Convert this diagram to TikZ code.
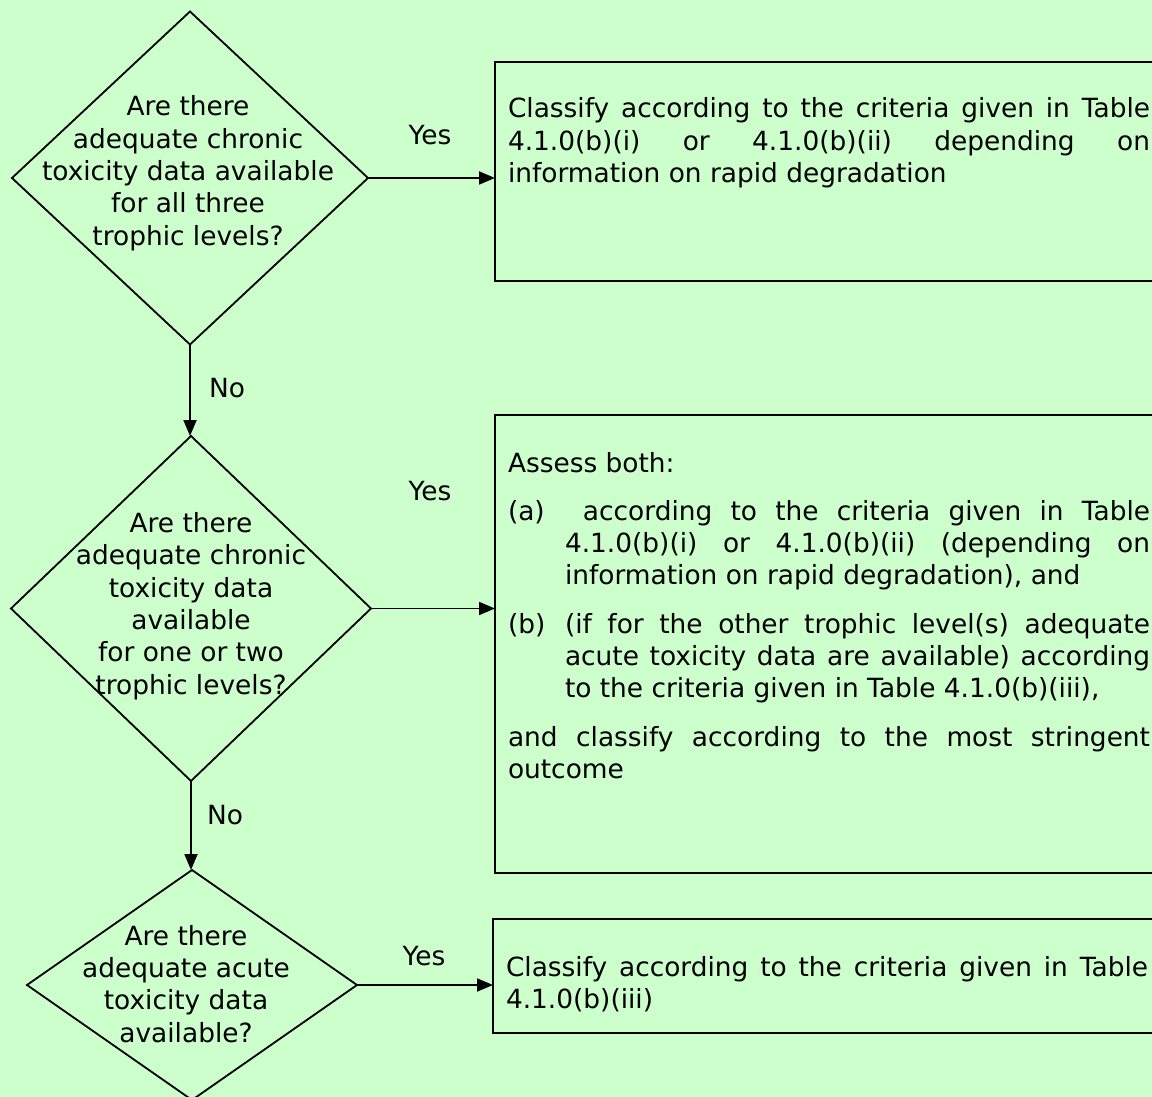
\documentclass[tikz,border=0pt]{standalone}
\usepackage{fontspec}
\setmainfont{DejaVu Sans}
\usetikzlibrary{shapes.geometric,arrows.meta}
\definecolor{bg}{HTML}{CCFFCC}
\newcommand\myfs{\fontsize{26.4}{32.3}\selectfont}
\newcommand\jpar[1]{\parbox[t]{642pt}{\tolerance=10000\hyphenpenalty=10000\emergencystretch=0pt #1}}
\begin{document}
\begin{tikzpicture}[x=1pt,y=-1pt,
  every node/.style={inner sep=0pt, outer sep=0pt},
  dia/.style={draw, diamond, line width=1.8pt},
  boxnode/.style={draw, rectangle, line width=2.2pt, anchor=north west},
  qtext/.style={align=center, font=\myfs, anchor=base},
  btext/.style={font=\myfs, anchor=base west},
  lbl/.style={font=\myfs},
  arr/.style={line width=1.8pt, -{Triangle[length=16pt,width=13pt]}},
]
\fill[bg] (0,0) rectangle (1152,1097);
\useasboundingbox (0,0) rectangle (1152,1097);
\clip (0,0) rectangle (1152,1097);

% decisions
\node[dia, minimum width=356pt, minimum height=333pt] (d1) at (190,178) {};
\node[dia, minimum width=360pt, minimum height=345pt] (d2) at (191,608.5) {};
\node[dia, minimum width=330pt, minimum height=230pt] (d3) at (192,985) {};

\node[qtext] (q1) at (188,245) {Are there\\adequate chronic\\toxicity data available\\for all three\\trophic levels?};
\node[qtext] (q2) at (191,694) {Are there\\adequate chronic\\toxicity data\\available\\for one or two\\trophic levels?};
\node[qtext] (q3) at (186,1042) {Are there\\adequate acute\\toxicity data\\available?};

% outcome boxes
\node[boxnode, minimum width=670pt, minimum height=219pt] (b1) at (495,62) {};
\node[boxnode, minimum width=670pt, minimum height=458pt] (b2) at (495,415) {};
\node[boxnode, minimum width=672pt, minimum height=114pt] (b3) at (493,919) {};

\node[btext] (t1) at (508,118) {\jpar{Classify according to the criteria given in Table\linebreak 4.1.0(b)(i) or 4.1.0(b)(ii) depending on\linebreak information on rapid degradation}};

\node[btext] (t2) at (508,472) {\jpar{\setlength{\parskip}{16pt}Assess both:\par
\hangindent=57pt\hangafter=1 \makebox[57pt][l]{(a)}\hspace{18pt}according to the criteria given in Table\linebreak 4.1.0(b)(i) or 4.1.0(b)(ii) (depending on\linebreak information on rapid degradation), and\par
\hangindent=57pt\hangafter=1 \makebox[57pt][l]{(b)}(if for the other trophic level(s) adequate\linebreak acute toxicity data are available) according\linebreak to the criteria given in Table 4.1.0(b)(iii),\par
and classify according to the most stringent\linebreak outcome}};

\node[btext] (t3) at (506,976) {\jpar{Classify according to the criteria given in Table\linebreak 4.1.0(b)(iii)}};

% connectors
\draw[arr] (d1.east) -- (d1.east -| b1.west);
\draw[arr] (d2.east) -- (d2.east -| b2.west);
\draw[arr] (d3.east) -- (d3.east -| b3.west);
\draw[arr] (d1.south) -- (d1.south |- d2.north);
\draw[arr] (d2.south) -- (d2.south |- d3.north);

% labels
\node[lbl] (y1) at (430,135) {Yes};
\node[lbl] (y2) at (430,491) {Yes};
\node[lbl] (y3) at (424,956) {Yes};
\node[lbl] (n1) at (227,388) {No};
\node[lbl] (n2) at (225,815) {No};
\end{tikzpicture}
\end{document}
